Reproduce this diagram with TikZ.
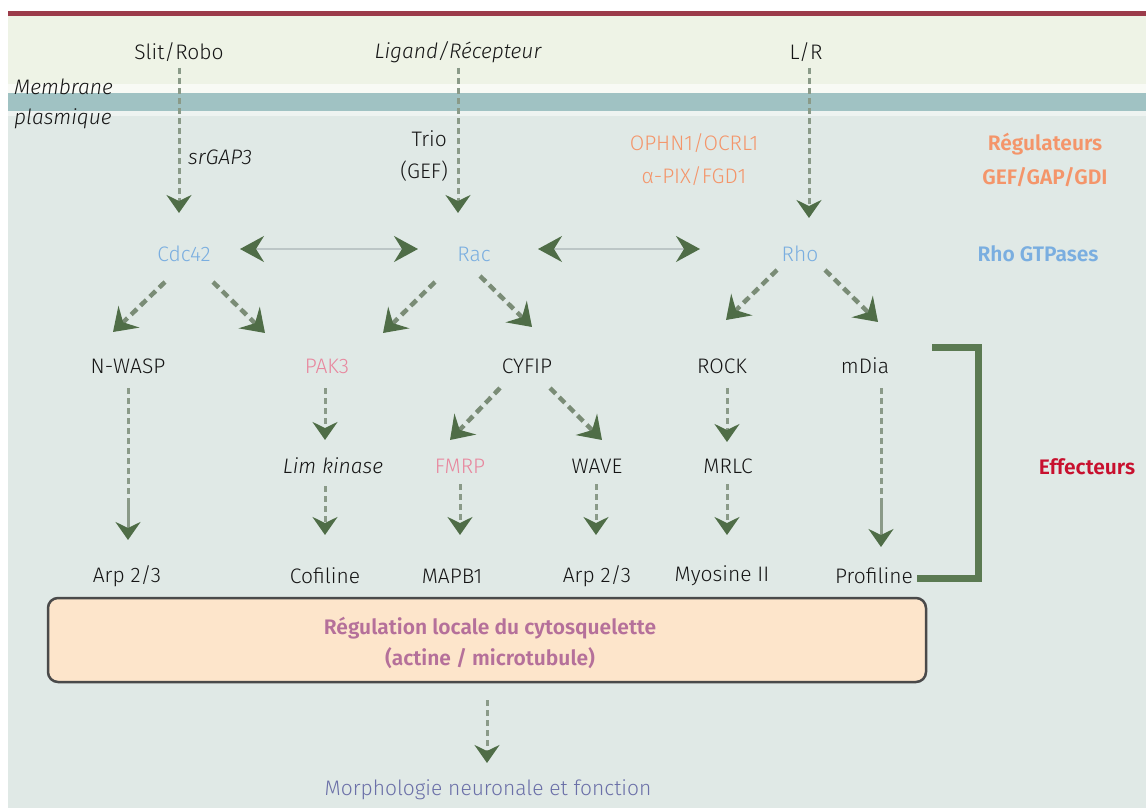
\documentclass[tikz,border=0pt]{standalone}
\usepackage{fontspec}
\setmainfont{Fira Sans}[UprightFont={* Light}, ItalicFont={* Light Italic}, BoldFont={* SemiBold}]
\usetikzlibrary{arrows.meta,calc}
\definecolor{topbg}{HTML}{EEF3E6}
\definecolor{botbg}{HTML}{E0E9E6}
\definecolor{membr}{HTML}{A0C2C3}
\definecolor{redline}{HTML}{9B3B4A}
\definecolor{agreen}{HTML}{4F6D47}
\definecolor{bgreen}{HTML}{5B7A52}
\definecolor{dashcol}{HTML}{8A9A88}
\definecolor{dashdia}{HTML}{7A8C76}
\definecolor{lgray}{HTML}{BCC6C6}
\definecolor{orangec}{HTML}{F4956A}
\definecolor{bluec}{HTML}{7AAEE0}
\definecolor{pinkc}{HTML}{E8879E}
\definecolor{mauvec}{HTML}{B5709A}
\definecolor{purpc}{HTML}{6B70A8}
\definecolor{redc}{HTML}{C8102E}
\definecolor{boxfill}{HTML}{FDE5CB}
\definecolor{boxdraw}{HTML}{4A4A4A}
\definecolor{txt}{HTML}{151515}
\begin{document}
\begin{tikzpicture}[x=1pt,y=-1pt,
  lbl/.style={inner sep=0pt, text=txt, font=\fontsize{21}{25}\selectfont},
  ital/.style={lbl, font=\fontsize{21}{25}\selectfont\itshape},
  boldlbl/.style={lbl, font=\fontsize{21}{25}\selectfont\bfseries},
  dashv/.style={draw=dashcol, line width=3pt, dash pattern=on 6pt off 4pt,
    -{Stealth[length=18pt,width=25pt,inset=6pt,color=agreen]}},
  solidv/.style={draw=dashcol, line width=3pt,
    -{Stealth[length=18pt,width=25pt,inset=6pt,color=agreen]}},
  dashd/.style={draw=dashdia, line width=4.5pt, dash pattern=on 8pt off 5pt,
    -{Stealth[length=22pt,width=30pt,inset=8pt,color=agreen]}},
  dbl/.style={draw=lgray, line width=2pt,
    {Stealth[length=24pt,width=26pt,inset=8pt,color=agreen]}-{Stealth[length=24pt,width=26pt,inset=8pt,color=agreen]}},
  brk/.style={draw=bgreen, line width=7pt},
  boxst/.style={draw=boxdraw, line width=2.5pt, fill=boxfill, rounded corners=10pt,
    minimum width=878pt, minimum height=84pt},
  boxtxt/.style={inner sep=0pt, align=center, text=mauvec,
    font=\fontsize{21}{31}\selectfont\bfseries}
]
\useasboundingbox (0,0) rectangle (1146,808);
% background
\fill[white] (0,0) rectangle (1146,808);
\fill[redline] (8,11) rectangle (1146,16);
\fill[topbg] (8,16) rectangle (1146,93);
\fill[botbg] (8,93) rectangle (1146,808);
\fill[white!60!topbg] (8,84) rectangle (1146,93);
\fill[white!45!botbg] (8,111) rectangle (1146,116);
\fill[membr] (8,93) rectangle (1146,111);

% nodes
\node[lbl] (slit) at (179,52) {Slit/Robo};
\node[ital] (lig) at (458,52) {Ligand/Récepteur};
\node[lbl] (lr) at (806,52) {L/R};
\node[ital, anchor=west] (mem1) at (14,87) {Membrane};
\node[ital, anchor=west] (mem2) at (14,119) {plasmique};
\node[ital, anchor=west] (srgap) at (188,157) {srGAP3};
\node[lbl, anchor=east] (trio) at (447,139) {Trio};
\node[lbl, anchor=east] (gef) at (448,171) {(GEF)};
\node[lbl, text=orangec] (ophn) at (694,143) {OPHN1/OCRL1};
\node[lbl, text=orangec] (apix) at (694,176) {α-PIX/FGD1};
\node[boldlbl, text=orangec] (reg1) at (1045,144) {Régulateurs};
\node[boldlbl, text=orangec] (reg2) at (1045,177) {GEF/GAP/GDI};

\node[lbl, text=bluec] (cdc) at (184,254) {Cdc42};
\node[lbl, text=bluec] (rac) at (474,254) {Rac};
\node[lbl, text=bluec] (rho) at (800,254) {Rho};
\node[boldlbl, text=bluec] (rgtp) at (1038,254) {Rho GTPases};

\node[lbl] (nwasp) at (128,366) {N-WASP};
\node[lbl, text=pinkc] (pak) at (327,366) {PAK3};
\node[lbl] (cyfip) at (527,366) {CYFIP};
\node[lbl] (rock) at (722,366) {ROCK};
\node[lbl] (mdia) at (865,366) {mDia};

\node[ital] (lim) at (333,466) {Lim kinase};
\node[lbl, text=pinkc] (fmrp) at (460,466) {FMRP};
\node[lbl] (wave) at (597,466) {WAVE};
\node[lbl] (mrlc) at (728,466) {MRLC};
\node[boldlbl, text=redc] (eff) at (1087,467) {Effecteurs};

\node[lbl] (arp1) at (127,576) {Arp 2/3};
\node[lbl] (cof) at (325,576) {Cofiline};
\node[lbl] (mapb) at (452,576) {MAPB1};
\node[lbl] (arp2) at (597,576) {Arp 2/3};
\node[lbl] (myo) at (722,576) {Myosine II};
\node[lbl] (prof) at (874,576) {Profiline};

\node[boxst] (box) at (487,640) {};
\node[boxtxt] (boxt) at (490,643) {Régulation locale du cytosquelette\\(actine / microtubule)};
\node[lbl, text=purpc] (morph) at (488,790) {Morphologie neuronale et fonction};

% membrane arrows
\draw[dashv] ($(slit)+(0,16)$) -- ($(cdc)+(-5,-41)$);
\draw[dashv] ($(lig)+(0,16)$) -- ($(rac)+(-16,-41)$);
\draw[dashv] ($(lr)+(3,16)$) -- ($(rho)+(9,-36)$);

% GTPase exchanges
\draw[dbl] ($(cdc)+(56,-5)$) -- ($(rac)+(-56,-5)$);
\draw[dbl] ($(rac)+(64,-5)$) -- ($(rho)+(-100,-5)$);

% diagonals
\draw[dashd] ($(cdc)+(-19,28)$) -- ($(nwasp)+(-15,-34)$);
\draw[dashd] ($(cdc)+(29,28)$) -- ($(pak)+(-62,-33)$);
\draw[dashd] ($(rac)+(-39,28)$) -- ($(pak)+(56,-33)$);
\draw[dashd] ($(rac)+(6,22)$) -- ($(cyfip)+(5,-39)$);
\draw[dashd] ($(rho)+(-23,16)$) -- ($(rock)+(4,-46)$);
\draw[dashd] ($(rho)+(25,16)$) -- ($(mdia)+(13,-44)$);
\draw[dashd] ($(cyfip)+(-27,22)$) -- ($(fmrp)+(-10,-26)$);
\draw[dashd] ($(cyfip)+(23,22)$) -- ($(wave)+(5,-26)$);

% verticals
\draw[dashv,-] ($(nwasp)+(0,22)$) -- ($(arp1)+(1,-76)$);
\draw[solidv] ($(arp1)+(1,-76)$) -- ($(arp1)+(1,-36)$);
\draw[dashv] ($(pak)+(-2,22)$) -- ($(lim)+(-8,-26)$);
\draw[dashv] ($(lim)+(-8,20)$) -- ($(cof)+(0,-41)$);
\draw[dashv] ($(fmrp)+(0,18)$) -- ($(mapb)+(8,-41)$);
\draw[dashv] ($(wave)+(-1,18)$) -- ($(arp2)+(-1,-41)$);
\draw[dashv] ($(rock)+(5,22)$) -- ($(mrlc)+(-1,-24)$);
\draw[dashv] ($(mrlc)+(-1,18)$) -- ($(myo)+(5,-41)$);
\draw[dashv,-] ($(mdia)+(16,22)$) -- ($(prof)+(7,-76)$);
\draw[solidv] ($(prof)+(7,-76)$) -- ($(prof)+(7,-29)$);
\draw[dashv] ($(morph)+(-1,-90)$) -- ($(morph)+(-1,-27)$);

% bracket
\draw[brk] (932,347) -- (978,347) -- (978,578) -- (917,578);
\end{tikzpicture}
\end{document}
